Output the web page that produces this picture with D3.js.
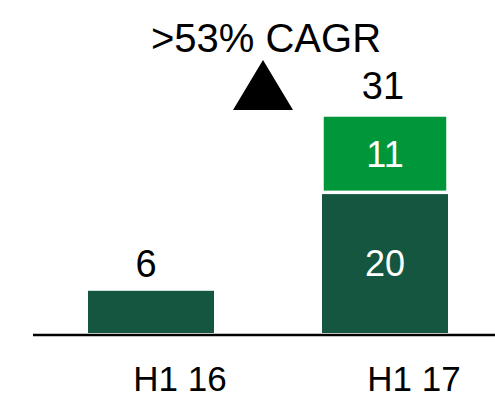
<!DOCTYPE html>
<html>
<head>
<meta charset="utf-8">
<script src="https://cdn.jsdelivr.net/npm/d3@7"></script>
<style>
  html, body { margin: 0; padding: 0; background: #fff; }
  svg { display: block; font-family: Arial, "Liberation Sans", sans-serif; }
</style>
</head>
<body>
<svg id="chart" width="495" height="399"></svg>
<script>
// Half-year totals, split into two stacked parts
const categories = ["H1 16", "H1 17"];
const baseValues = [6, 20];
const addValues = [0, 11];
const totals = [6, 31];
const growthLabel = ">53% CAGR";

const colorBase = "#14563F";
const colorAdd = "#00963A";

const svg = d3.select("#chart");

const x = d3.scaleBand()
  .domain(categories)
  .range([34, 502])
  .paddingInner(0.4615)
  .paddingOuter(0.2308);

const y = d3.scaleLinear()
  .domain([0, 31])
  .range([333, 115]);

const rows = categories.map((c, i) => ({
  cat: c, base: baseValues[i], add: addValues[i], total: totals[i]
}));

// Lower (dark) segment
svg.append("g").selectAll("rect")
  .data(rows)
  .join("rect")
  .attr("x", d => x(d.cat))
  .attr("width", x.bandwidth())
  .attr("y", d => y(d.base))
  .attr("height", d => y(0) - y(d.base))
  .attr("fill", colorBase);

// Upper (light) segment, separated by a thin white gap
svg.append("g").selectAll("rect")
  .data(rows.filter(d => d.add > 0))
  .join("rect")
  .attr("x", d => x(d.cat))
  .attr("width", x.bandwidth())
  .attr("y", d => y(d.base + d.add))
  .attr("height", d => y(d.base) - y(d.base + d.add))
  .attr("fill", colorAdd)
  .attr("stroke", "#fff")
  .attr("stroke-width", 3.5);

// Baseline axis
const xAxis = d3.axisBottom(x).tickSize(0).tickPadding(0);
const axisG = svg.append("g")
  .attr("transform", `translate(0,${y(0) + 2})`)
  .call(xAxis);
axisG.select(".domain").remove();
axisG.append("line")
  .attr("x1", 33).attr("x2", 495)
  .attr("y1", 0).attr("y2", 0)
  .attr("stroke", "#000")
  .attr("stroke-width", 2.5);
axisG.selectAll(".tick text")
  .attr("font-size", 35)
  .attr("fill", "#000")
  .attr("font-family", "Arial, 'Liberation Sans', sans-serif")
  .attr("dx", 29)
  .attr("dy", 0)
  .attr("y", 56);

// Totals above bars
svg.append("g").selectAll("text")
  .data(rows)
  .join("text")
  .attr("x", d => x(d.cat) + x.bandwidth() / 2)
  .attr("dx", d => d.add > 0 ? -2 : -5)
  .attr("y", d => y(d.total) - (d.add > 0 ? 16 : 14))
  .attr("text-anchor", "middle")
  .attr("font-size", 38)
  .attr("fill", "#000")
  .text(d => d.total);

// Segment values inside the stacked bar
const inner = rows.filter(d => d.add > 0);
svg.append("g").selectAll("text")
  .data(inner)
  .join("text")
  .attr("x", d => x(d.cat) + x.bandwidth() / 2)
  .attr("y", d => (y(0) + y(d.base)) / 2 + 13)
  .attr("text-anchor", "middle")
  .attr("font-size", 36)
  .attr("fill", "#fff")
  .text(d => d.base);
svg.append("g").selectAll("text")
  .data(inner)
  .join("text")
  .attr("x", d => x(d.cat) + x.bandwidth() / 2)
  .attr("y", d => (y(d.base) + y(d.base + d.add)) / 2 + 13)
  .attr("text-anchor", "middle")
  .attr("font-size", 36)
  .attr("fill", "#fff")
  .text(d => d.add);

// Growth annotation: label and upward triangle
const midX = (x(categories[0]) + x.bandwidth() + x(categories[1])) / 2;
svg.append("text")
  .attr("x", midX - 2)
  .attr("y", 52)
  .attr("text-anchor", "middle")
  .attr("font-size", 40)
  .attr("fill", "#000")
  .text(growthLabel);

const triX = midX - 5;
svg.append("path")
  .attr("d", `M${triX - 30},110 L${triX},60 L${triX + 30},110 Z`)
  .attr("fill", "#000");
</script>
</body>
</html>
